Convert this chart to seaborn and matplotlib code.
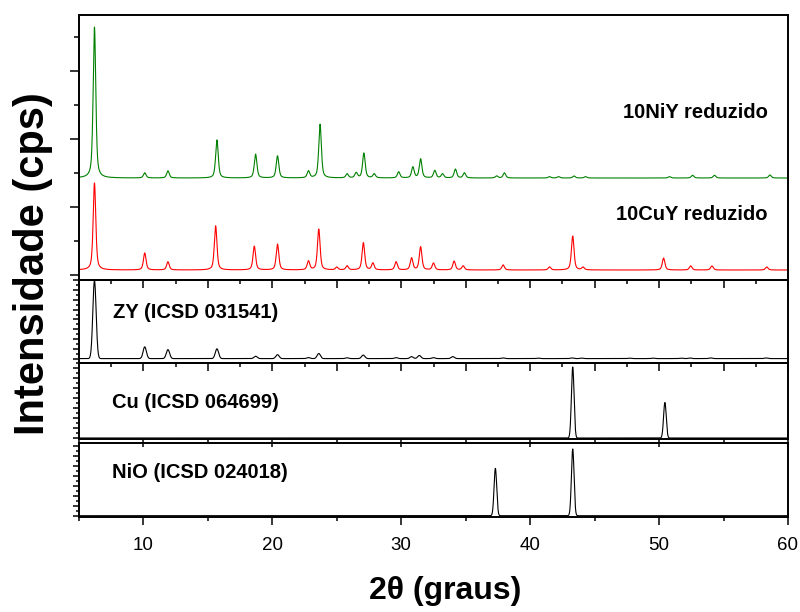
import numpy as np
import pandas as pd
import matplotlib
matplotlib.use("Agg")
import matplotlib.pyplot as plt
from matplotlib.ticker import MultipleLocator, NullFormatter
import seaborn as sns

# ---------------------------------------------------------------- data
x_range = (5.0, 60.0)
x_ticks = [10, 20, 30, 40, 50, 60]

# 10NiY reduzido: reflections (2θ) and heights above background (cps)
niy_pos = [6.2, 10.1, 11.9, 15.7, 18.7, 20.4, 22.8, 23.7, 25.8, 26.5, 27.1, 27.9,
           29.8, 30.9, 31.5, 32.6, 33.2, 34.2, 34.9, 37.4, 38.0, 41.5, 42.2,
           43.4, 44.3, 50.8, 52.6, 54.3, 58.6]
niy_int = [2220, 75, 105, 560, 350, 325, 100, 790, 60, 75, 365, 60,
           90, 160, 280, 110, 60, 130, 75, 30, 75, 20, 20,
           30, 20, 20, 40, 40, 45]
niy_background = 1426

# 10CuY reduzido
cuy_pos = [6.2, 10.1, 11.9, 15.6, 18.6, 20.4, 22.8, 23.6, 25.0, 25.8, 27.06, 27.8,
           29.6, 30.8, 31.5, 32.5, 34.1, 34.8, 37.9, 41.5, 43.3, 44.1,
           50.35, 52.45, 54.1, 58.35]
cuy_int = [1280, 250, 120, 650, 350, 380, 130, 600, 40, 60, 400, 100,
           120, 175, 340, 100, 130, 60, 75, 45, 500, 40,
           175, 60, 60, 45]
cuy_background = 73

# Reference patterns (relative intensity, %)
zy_pos = [6.2, 10.1, 11.9, 15.7, 18.7, 20.4, 22.8, 23.6, 25.8, 27.05, 29.6, 30.8,
          31.4, 32.5, 34.0, 37.9, 40.6, 43.25, 44.0, 47.7, 49.5, 51.7, 52.4,
          54.0, 58.3]
zy_int = [100, 15, 11.5, 12.5, 3.0, 5.0, 1.3, 6.5, 1.0, 4.5, 1.2, 2.5,
          4.0, 1.2, 2.5, 0.8, 0.6, 0.8, 0.6, 0.6, 0.6, 0.6, 0.8,
          0.8, 0.8]
cu_pos = [43.3, 50.45]
cu_int = [100, 50]
nio_pos = [37.3, 43.3]
nio_int = [71, 100]

# ------------------------------------------------------------- profiles
grid = np.arange(x_range[0], x_range[1] + 1e-9, 0.01)


def pattern(positions, heights, fwhm=0.2, eta=0.35, background=0.0):
    """Sum of pseudo-Voigt peaks on a flat background."""
    y = np.full_like(grid, background, dtype=float)
    hw = fwhm / 2.0
    for p, h in zip(positions, heights):
        d = grid - p
        lor = 1.0 / (1.0 + (d / hw) ** 2)
        gau = np.exp(-np.log(2) * (d / hw) ** 2)
        y += h * (eta * lor + (1 - eta) * gau)
    return y


curves = pd.DataFrame({
    "2theta": grid,
    "10NiY": pattern(niy_pos, niy_int, fwhm=0.24, eta=0.55, background=niy_background),
    "10CuY": pattern(cuy_pos, cuy_int, fwhm=0.24, eta=0.55, background=cuy_background),
    "ZY": pattern(zy_pos, zy_int, fwhm=0.3, eta=0.0),
    "Cu": pattern(cu_pos, cu_int, fwhm=0.24, eta=0.0),
    "NiO": pattern(nio_pos, nio_int, fwhm=0.24, eta=0.0),
})

# --------------------------------------------------------------- figure
sns.set_style("ticks")
plt.rcParams["font.family"] = ["Liberation Sans", "DejaVu Sans"]
plt.rcParams["axes.linewidth"] = 1.4
plt.rcParams["text.color"] = "black"
plt.rcParams["axes.labelcolor"] = "black"
plt.rcParams["xtick.color"] = "black"
plt.rcParams["ytick.color"] = "black"

fig = plt.figure(figsize=(8.0, 6.12), dpi=100)
W, H = 800.0, 612.0
left, right = 79.0, 788.0


def panel(top, bottom):
    return fig.add_axes([left / W, 1 - bottom / H, (right - left) / W, (bottom - top) / H],
                        facecolor="none")


ax_top = panel(15, 280)
ax_zy = panel(280, 362.5)
ax_cu = panel(362.5, 439)
ax_nio = panel(442.5, 516.7)
axes = [ax_top, ax_zy, ax_cu, ax_nio]

sns.lineplot(data=curves, x="2theta", y="10NiY", ax=ax_top, color="#008000",
             linewidth=0.8, estimator=None)
sns.lineplot(data=curves, x="2theta", y="10CuY", ax=ax_top, color="#ff0000",
             linewidth=0.8, estimator=None)
sns.lineplot(data=curves, x="2theta", y="ZY", ax=ax_zy, color="black",
             linewidth=0.8, estimator=None)
sns.lineplot(data=curves, x="2theta", y="Cu", ax=ax_cu, color="black",
             linewidth=0.8, estimator=None)
sns.lineplot(data=curves, x="2theta", y="NiO", ax=ax_nio, color="black",
             linewidth=0.8, estimator=None)

ax_top.set_ylim(-74, 3824)
ax_zy.set_ylim(-5, 100.5)
ax_cu.set_ylim(-1.4, 106.3)
ax_nio.set_ylim(-1.5, 109.7)

y_steps = {ax_top: (1000, 500), ax_zy: (12.5, 6.25), ax_cu: (14, 7), ax_nio: (15, 7.5)}
x_steps = {ax_top: (5, 2.5), ax_zy: (5, 2.5), ax_cu: (10, 5), ax_nio: (10, 5)}

for ax in axes:
    ax.set_xlim(*x_range)
    ax.set_xlabel("")
    ax.set_ylabel("")
    for s in ax.spines.values():
        s.set_visible(True)
        s.set_linewidth(1.4)
        s.set_color("black")
    mj, mn = y_steps[ax]
    ax.yaxis.set_major_locator(MultipleLocator(mj))
    ax.yaxis.set_minor_locator(MultipleLocator(mn))
    xmj, xmn = x_steps[ax]
    ax.xaxis.set_major_locator(MultipleLocator(xmj))
    ax.xaxis.set_minor_locator(MultipleLocator(xmn))
    ax.yaxis.set_major_formatter(NullFormatter())
    ax.tick_params(axis="both", which="both", direction="out", color="black",
                   width=1.1, left=True, bottom=True, right=False, top=False,
                   labelleft=False)
    if ax is ax_top:
        ax.tick_params(axis="y", which="major", length=6.5)
        ax.tick_params(axis="y", which="minor", length=3.6)
    else:
        ax.tick_params(axis="y", which="major", length=4.3)
        ax.tick_params(axis="y", which="minor", length=2.5)
    ax.tick_params(axis="x", which="major", length=5.8)
    ax.tick_params(axis="x", which="minor", length=3.0)
    if ax is not ax_nio:
        ax.tick_params(axis="x", labelbottom=False)

ax_nio.set_xticks(x_ticks)
ax_nio.set_xticklabels([str(t) for t in x_ticks], fontsize=13.5, color="black")
ax_nio.tick_params(axis="x", which="major", pad=9)

# panel captions
caption = dict(transform=fig.transFigure, va="center", fontsize=14.5,
               fontweight="bold", color="black")
ax_top.text(768 / W, 1 - 113 / H, "10NiY reduzido", ha="right", **caption)
ax_top.text(768 / W, 1 - 215 / H, "10CuY reduzido", ha="right", **caption)
ax_zy.text(113 / W, 1 - 313 / H, "ZY (ICSD 031541)", ha="left", **caption)
ax_cu.text(112 / W, 1 - 403 / H, "Cu (ICSD 064699)", ha="left", **caption)
ax_nio.text(112 / W, 1 - 473 / H, "NiO (ICSD 024018)", ha="left", **caption)

fig.text(445 / W, 1 - 591 / H, "2θ (graus)", ha="center", va="center",
         fontsize=23, fontweight="bold", color="black")
fig.text(33 / W, 1 - 264 / H, "Intensidade (cps)", ha="center", va="center",
         rotation=90, fontsize=30, fontweight="bold", color="black")

fig.savefig("out.png", dpi=100, facecolor="white")
